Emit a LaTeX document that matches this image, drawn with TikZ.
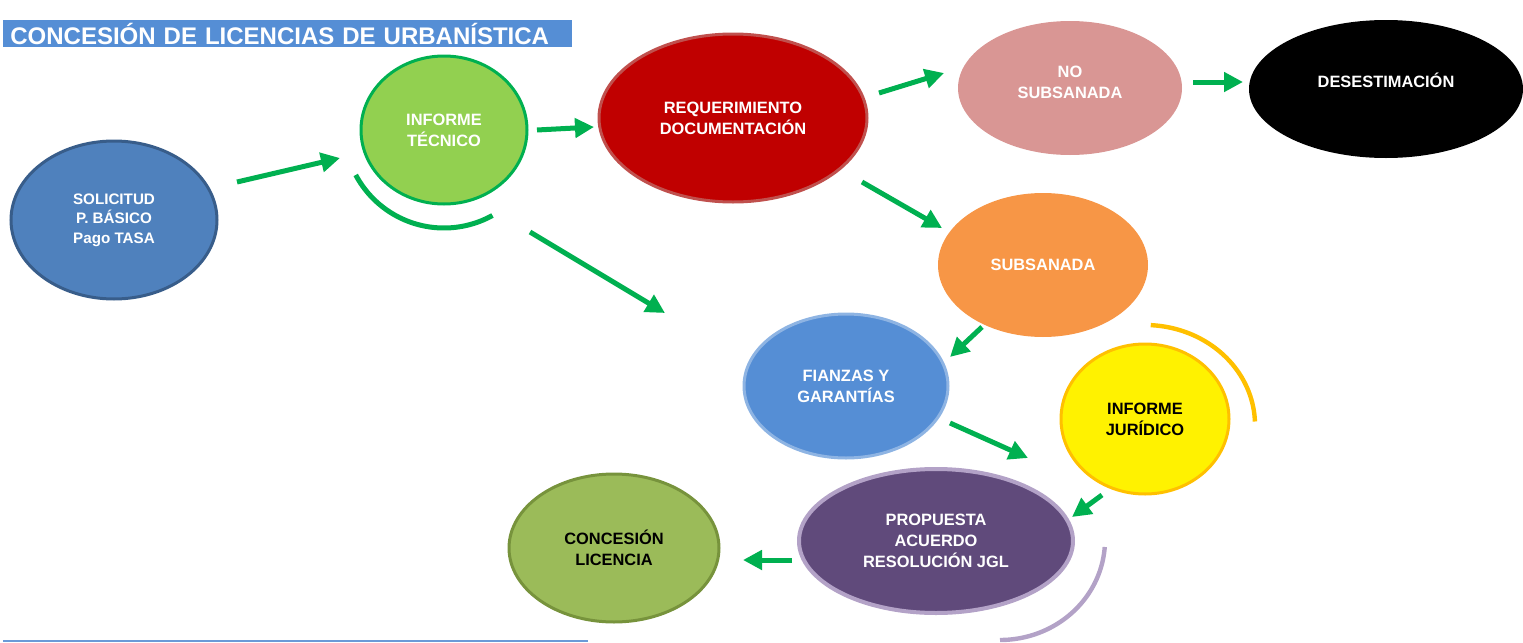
\documentclass[tikz,border=0pt]{standalone}
\usepackage{fontspec}
\setmainfont{Liberation Sans}
\usetikzlibrary{shapes.geometric,arrows.meta,calc}
\definecolor{solblue}{HTML}{4F81BD}
\definecolor{soledge}{HTML}{385D8A}
\definecolor{infgreen}{HTML}{92D050}
\definecolor{arrowgreen}{HTML}{00B050}
\definecolor{reqred}{HTML}{C00000}
\definecolor{reqedge}{HTML}{C0504D}
\definecolor{nospink}{HTML}{D99694}
\definecolor{suborange}{HTML}{F79646}
\definecolor{fiablue}{HTML}{558ED5}
\definecolor{fiaedge}{HTML}{8EB4E3}
\definecolor{jurorange}{HTML}{FFC000}
\definecolor{propurple}{HTML}{604A7B}
\definecolor{proedge}{HTML}{B3A2C7}
\definecolor{congreen}{HTML}{9BBB59}
\definecolor{conedge}{HTML}{77933C}
\definecolor{titleblue}{HTML}{558ED5}
\definecolor{lineblue}{HTML}{6A9AD8}
\begin{document}
\begin{tikzpicture}[x=0.5pt,y=-0.5pt,
  ell/.style={ellipse, inner sep=0pt, align=center, text=white,
    font=\bfseries\fontsize{8.2}{10.6}\selectfont},
  lab/.style={align=center, text=white, font=\bfseries\fontsize{8.2}{10.6}\selectfont},
  flow/.style={draw=arrowgreen, line width=2.5pt, -{Triangle[length=9.5pt,width=9.5pt]}},
  ringarc/.style={line width=2.2pt}
]
\useasboundingbox (0,0) rectangle (1523,643);

% title bar
\node[anchor=north west, fill=titleblue, inner xsep=3.5pt, inner ysep=0pt,
  minimum height=13.5pt, text width=277.5pt, align=left, text=white,
  font=\bfseries\fontsize{12}{12}\selectfont] (title) at (3,20)
  {CONCESIÓN DE LICENCIAS DE URBANÍSTICA};
\draw[line width=1.4pt, lineblue] (3,641) -- (588,641);

% arcs
\draw[ringarc, arrowgreen, line width=2.5pt] plot[domain=61:152, samples=60]
  ({444+100*cos(\x)},{128+100*sin(\x)});
\draw[ringarc, jurorange] plot[domain=-87:-2, samples=60]
  ({1145+110*cos(\x)},{425+100*sin(\x)});
\draw[ringarc, proedge] plot[domain=4:90, samples=60]
  ({1000+105*cos(\x)},{540+100*sin(\x)});

% nodes
\node[ell, fill=solblue, draw=soledge, line width=1.5pt, minimum width=103pt, minimum height=79pt,
  font=\bfseries\fontsize{7.6}{9.8}\selectfont] (sol) at (114,220) {SOLICITUD\\P. BÁSICO\\Pago TASA};
\node[ell, fill=infgreen, draw=arrowgreen, line width=1.5pt, minimum width=83pt, minimum height=74pt]
  (inf) at (444,130) {INFORME\\TÉCNICO};
\node[ell, fill=reqred, draw=reqedge, line width=1.5pt, minimum width=134pt, minimum height=84pt]
  (req) at (733,118) {REQUERIMIENTO\\DOCUMENTACIÓN};
\node[ell, fill=nospink, minimum width=112pt, minimum height=67pt,
  label={[lab, yshift=3pt]center:NO\\SUBSANADA}] (nos) at (1070,88) {};
\node[ell, fill=black, minimum width=137pt, minimum height=69pt,
  label={[lab, yshift=4.5pt]center:DESESTIMACIÓN}] (des) at (1386,89) {};
\node[ell, fill=suborange, minimum width=105pt, minimum height=72pt]
  (sub) at (1043,265) {SUBSANADA};
\node[ell, fill=fiablue, draw=fiaedge, line width=1.5pt, minimum width=102pt, minimum height=72pt]
  (fia) at (846,386) {FIANZAS Y\\GARANTÍAS};
\node[ell, fill=yellow, draw=jurorange, line width=1.5pt, minimum width=84pt, minimum height=75pt, text=black]
  (jur) at (1145,419) {INFORME\\JURÍDICO};
\node[ell, fill=propurple, draw=proedge, line width=2pt, minimum width=137pt, minimum height=72pt]
  (pro) at (936,541) {PROPUESTA\\ACUERDO\\RESOLUCIÓN JGL};
\node[ell, fill=congreen, draw=conedge, line width=1.5pt, minimum width=105pt, minimum height=74pt, text=black]
  (con) at (614,548) {CONCESIÓN\\LICENCIA};

% connector end points
\coordinate (a1s) at (237,182); \coordinate (a1e) at (340,158);
\coordinate (a2s) at (537,130); \coordinate (a2e) at (594,127);
\coordinate (a3s) at (530,232); \coordinate (a3e) at (665,313);
\coordinate (a4s) at (879,93);  \coordinate (a4e) at (944,73);
\coordinate (a5s) at (1193,82); \coordinate (a5e) at (1243,82);
\coordinate (a6s) at (862,182); \coordinate (a6e) at (942,228);
\coordinate (a7s) at (982,327); \coordinate (a7e) at (950,357);
\coordinate (a8s) at (950,423); \coordinate (a8e) at (1028,458);
\coordinate (a9s) at (1102,495); \coordinate (a9e) at (1072,517);
\coordinate (a10s) at (792,560); \coordinate (a10e) at (743,560);

\draw[flow] (a1s) -- (a1e);
\draw[flow] (a2s) -- (a2e);
\draw[flow] (a3s) -- (a3e);
\draw[flow] (a4s) -- (a4e);
\draw[flow] (a5s) -- (a5e);
\draw[flow] (a6s) -- (a6e);
\draw[flow] (a7s) -- (a7e);
\draw[flow] (a8s) -- (a8e);
\draw[flow] (a9s) -- (a9e);
\draw[flow] (a10s) -- (a10e);
\end{tikzpicture}
\end{document}
